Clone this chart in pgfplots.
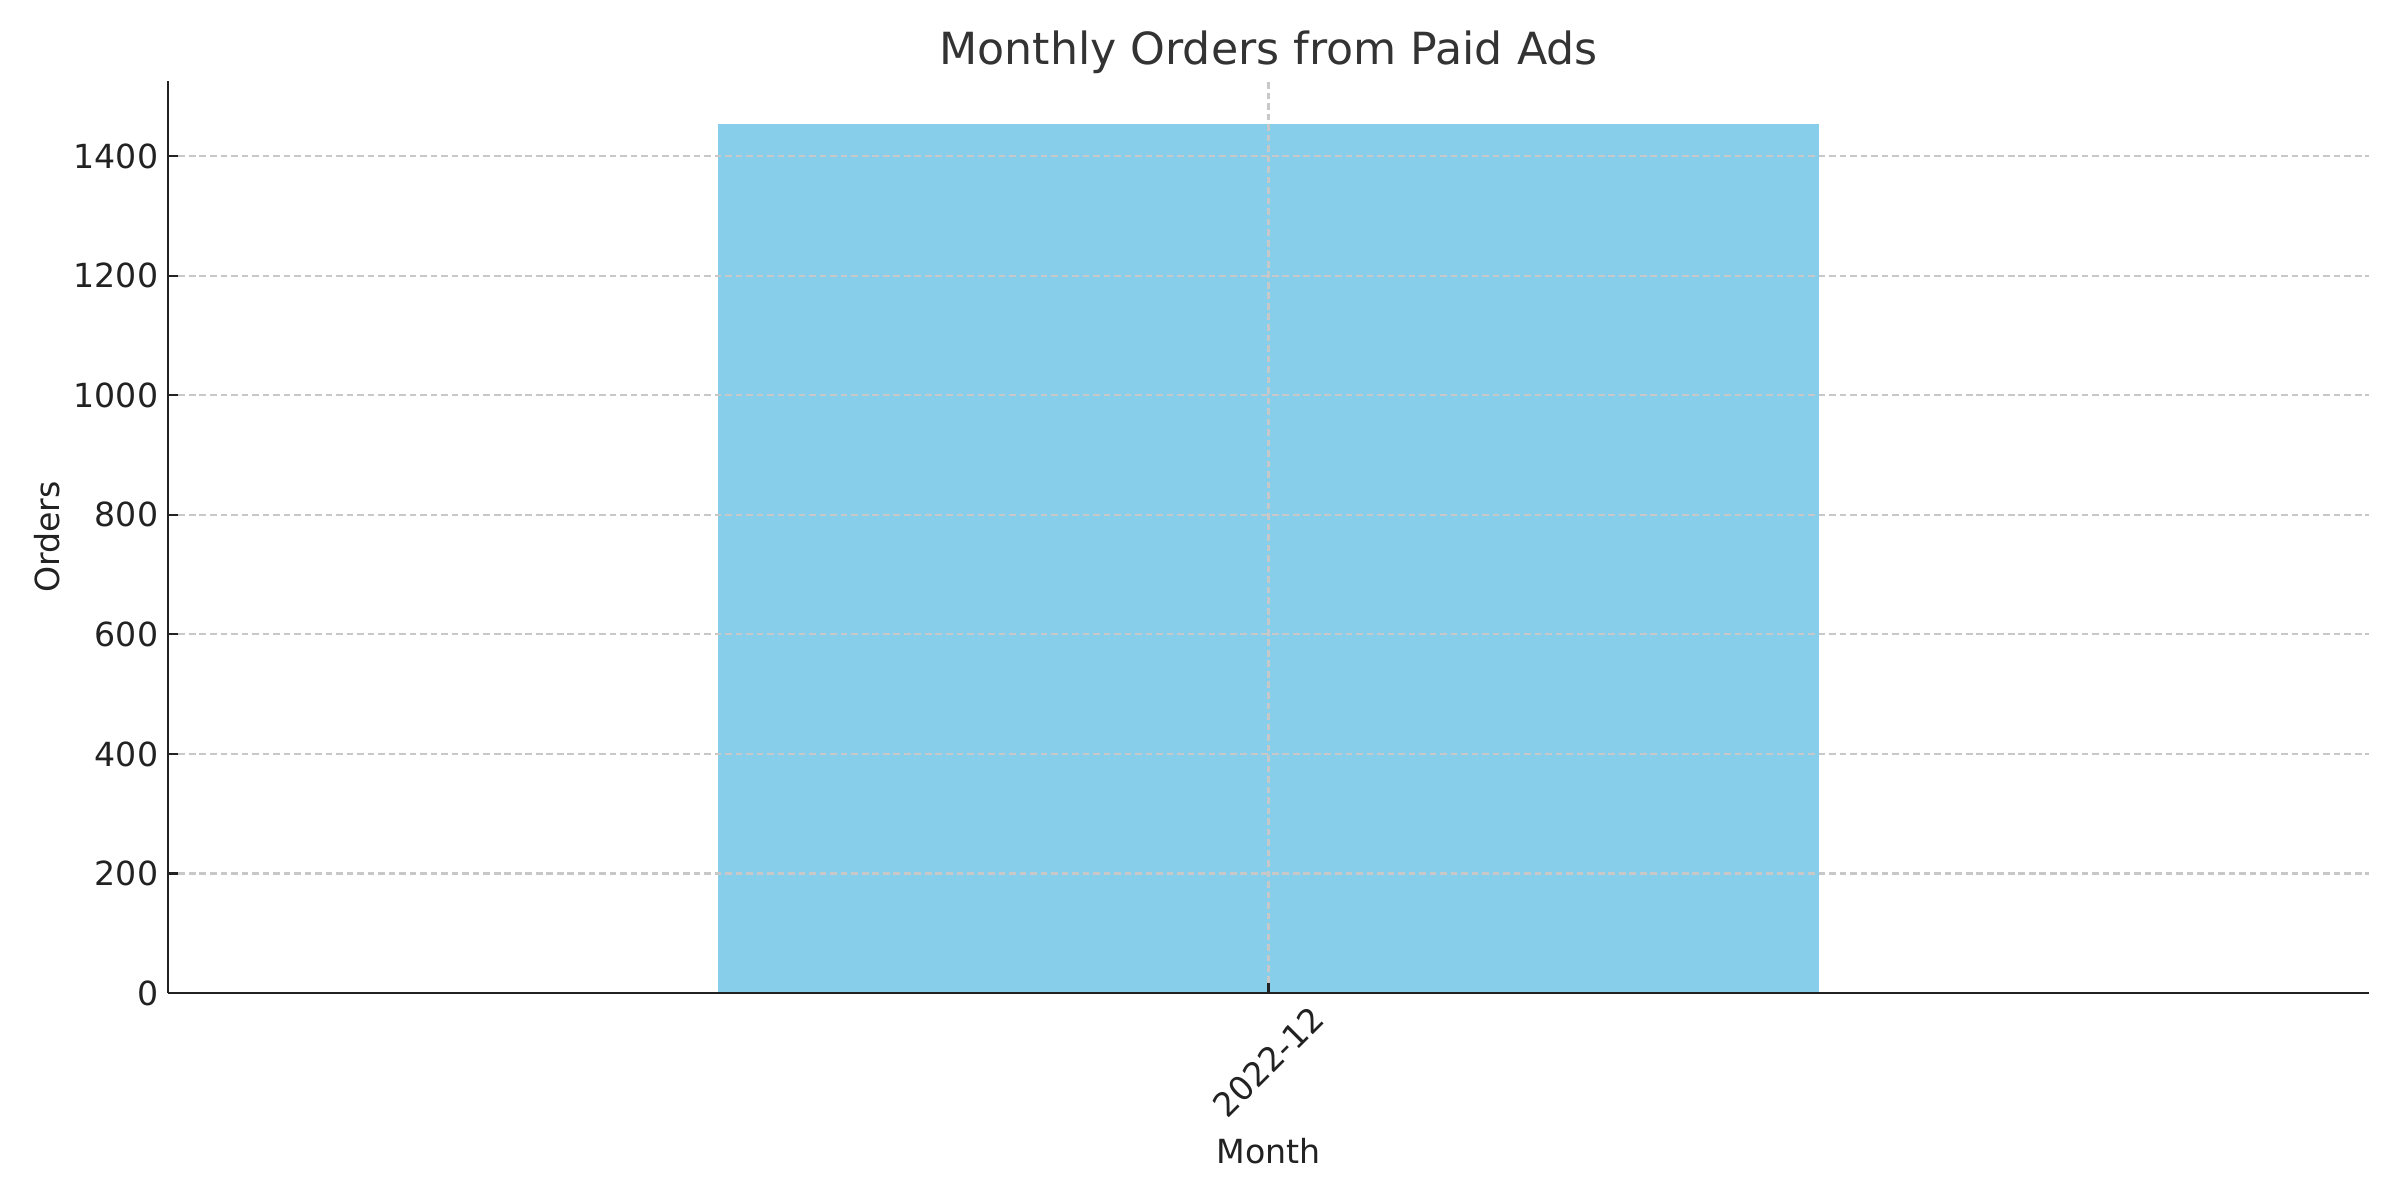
\documentclass[border=0pt]{standalone}
\usepackage{fontspec}
\setmainfont{DejaVu Sans}
\usepackage{pgfplots}
\pgfplotsset{compat=1.18}

\definecolor{barblue}{HTML}{87CEEB}
\definecolor{gridc}{RGB}{200,200,200}
\definecolor{txt}{HTML}{222222}
\definecolor{ttl}{HTML}{333333}

\begin{document}
\begin{tikzpicture}
\begin{axis}[
    scale only axis,
    width=795.5pt,
    height=329.6pt,
    xmin=-0.8, xmax=0.8,
    ymin=0, ymax=1525.6,
    axis lines*=left,
    axis line style={txt, line width=0.8pt},
    tick style={txt, line width=0.8pt},
    major tick length=3.5pt,
    tick align=inside,
    xtick={0},
    xticklabels={2022-12},
    ytick={0,200,...,1400},
    xticklabel style={anchor=center, rotate=45},
    xticklabel shift=25pt,
    ticklabel style={font=\fontsize{12}{14}\selectfont, text=txt},
    /pgf/number format/assume math mode=true,
    /pgf/number format/1000 sep={},
    grid=major,
    major grid style={gridc, line width=0.8pt, dash pattern=on 2.4pt off 1.4pt},
    axis on top,
    xlabel={Month},
    ylabel={Orders},
    label style={font=\fontsize{12}{14}\selectfont, text=txt},
    xlabel style={at={([yshift=-52.2pt]axis description cs:0.5,0)}, anchor=north, inner sep=0pt},
    ylabel style={at={([xshift=-39pt]axis description cs:0,0.5)}, anchor=south, inner sep=0pt},
    title={Monthly Orders from Paid Ads},
    title style={at={([yshift=-3.7pt]axis description cs:0.5,1)}, yshift=0pt, anchor=south, inner sep=0pt,
                 font=\fontsize{16}{19}\selectfont, text=ttl},
]
  % Monthly orders from paid ads
  \addplot[ybar, bar width=0.8, fill=barblue, draw=none] coordinates {
    (0, 1453)
  };
  \coordinate (ll) at (rel axis cs:0,0);
  \coordinate (ur) at (rel axis cs:1,1);
\end{axis}
% page size = figure size
\path ([xshift=-60.7pt,yshift=-74.8pt]ll) rectangle ([xshift=11.2pt,yshift=29.3pt]ur);
\end{tikzpicture}
\end{document}
